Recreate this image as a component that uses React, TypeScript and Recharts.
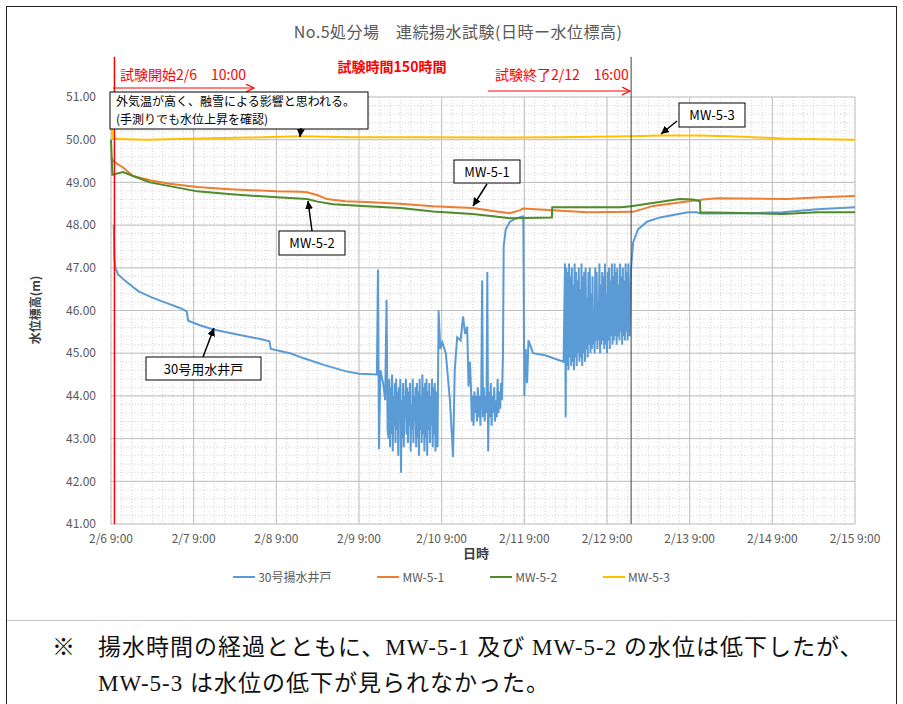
import { LineChart, Line, XAxis, YAxis, CartesianGrid, ReferenceLine } from 'recharts'

const FONT = '"Noto Sans CJK JP", "Noto Sans", sans-serif'
const SERIF = '"Liberation Serif", "DejaVu Serif", "Noto Sans CJK JP", serif'

// x axis: hours since 2/6 9:00
const dayTicks = [0, 24, 48, 72, 96, 120, 144, 168, 192, 216]
const dayLabels = ['2/6 9:00', '2/7 9:00', '2/8 9:00', '2/9 9:00', '2/10 9:00', '2/11 9:00', '2/12 9:00', '2/13 9:00', '2/14 9:00', '2/15 9:00']
const levelTicks = [41, 42, 43, 44, 45, 46, 47, 48, 49, 50, 51]
const testStartHour = 1
const testEndHour = 151

// 30号揚水井戸 - logged points outside the pumping bursts
const wellHours = [0.8, 0.9, 1.0, 1.3, 2, 4, 8, 12, 16, 20, 22, 22.4, 26, 30, 36, 44, 46, 46.4, 52, 56, 62, 68, 72, 77.2, 77.5, 77.8, 78.2, 79, 79.6, 80.0, 80.3,
  94.8, 95.1, 95.6, 96.2, 97.2, 98.4, 99.3, 99.8, 100.5, 101.5, 102.2, 102.8, 103.4, 103.8, 104.2,
  113.8, 114.0, 114.6, 115.8, 117.5, 119.4, 119.7, 120.0, 120.4, 120.8, 121.2, 122.5, 126, 131.4,
  150.6, 151.0, 151.6, 153, 155.6, 159.4, 164, 167.5, 170, 171.2, 186, 195, 205, 216]
const wellLevels = [48.0, 47.6, 47.2, 47.0, 46.85, 46.7, 46.45, 46.3, 46.18, 46.06, 45.98, 45.76, 45.65, 45.55, 45.45, 45.32, 45.28, 45.1, 45.0, 44.88, 44.72, 44.58, 44.52, 44.5, 46.96, 42.75, 44.6, 44.3, 43.9, 46.25, 43.2,
  42.8, 46.0, 45.1, 45.25, 45.0, 43.9, 42.57, 44.6, 45.37, 45.3, 45.86, 45.45, 45.62, 44.22, 44.8,
  45.0, 47.5, 47.9, 48.08, 48.15, 48.2, 48.2, 44.0, 45.1, 44.3, 45.3, 45.0, 44.95, 44.8,
  45.4, 47.0, 47.6, 47.9, 48.08, 48.18, 48.25, 48.3, 48.3, 48.27, 48.28, 48.3, 48.37, 48.42]

// pumping bursts, logged at a fixed interval
const burst1Start = 80.6
const burst1Step = 0.2
const burst1Levels = [43.0, 44.4, 42.8, 44.2, 43.1, 44.5, 42.7, 44.0, 43.3, 44.3,
  42.9, 44.4, 43.2, 44.1, 42.6, 44.2, 43.4, 44.4, 42.2, 43.9,
  43.0, 44.3, 42.8, 44.0, 43.5, 44.4, 43.1, 44.2, 42.9, 44.1,
  43.3, 44.3, 42.7, 43.8, 43.2, 44.4, 42.9, 44.0, 43.4, 44.2,
  42.8, 44.3, 43.0, 44.1, 42.6, 44.4, 43.2, 44.0, 42.9, 44.5,
  43.1, 44.2, 42.7, 44.3, 43.0, 44.4, 42.6, 44.1, 43.2, 44.3,
  42.9, 44.0, 43.3, 44.4, 42.8, 44.2, 43.1, 44.3, 42.7, 44.1,
  43.0]
const burst2Start = 104.5
const burst2Step = 0.25
const burst2Levels = [44.2, 43.4, 44.0, 43.3, 44.1, 43.6, 44.0, 43.4, 44.2, 43.5,
  44.0, 43.3, 44.1, 46.7, 43.5, 44.2, 43.4, 44.0, 43.6, 46.9,
  42.7, 44.1, 43.5, 44.3, 43.3, 44.0, 43.6, 44.2, 43.4, 43.9,
  43.5, 44.4, 43.6, 44.1, 43.7, 44.3, 43.9]
const burst3Start = 131.8
const burst3Step = 0.2
const burst3Levels = [47.1, 43.5, 47.0, 44.7, 46.9, 44.6, 47.1, 44.9, 46.8, 44.7,
  47.0, 44.8, 46.6, 44.6, 47.1, 44.9, 46.9, 44.7, 46.7, 45.0,
  47.0, 44.8, 46.5, 44.9, 47.1, 44.7, 46.8, 45.0, 46.9, 44.8,
  47.0, 45.1, 46.3, 44.9, 46.9, 45.2, 47.0, 45.0, 46.4, 45.1,
  46.8, 45.2, 46.0, 45.0, 47.0, 45.3, 46.9, 45.1, 46.2, 45.3,
  47.1, 45.0, 46.6, 45.2, 46.9, 45.3, 46.8, 45.1, 47.1, 45.2,
  46.4, 45.0, 46.9, 45.3, 47.0, 45.1, 46.7, 45.4, 47.1, 45.2,
  46.8, 45.3, 47.1, 45.4, 46.9, 45.2, 47.0, 45.4, 46.6, 45.3,
  47.1, 45.5, 46.8, 45.2, 47.0, 45.4, 46.7, 45.3, 47.1, 45.5,
  46.9, 45.3, 47.1]

const mw1Hours = [0, 0.6, 3.5, 6.4, 11.3, 17, 25, 34.5, 48.2, 54.9, 56.9, 60, 62.7, 68, 74.3, 83.9, 93.5, 105, 110.9, 115.8, 118.8, 119.6, 128.3, 138.2, 151.6, 157.4, 167.2, 171.9, 176, 196.3, 206, 216]
const mw1Levels = [49.6, 49.5, 49.35, 49.15, 49.05, 48.97, 48.89, 48.84, 48.79, 48.78, 48.77, 48.7, 48.61, 48.56, 48.54, 48.5, 48.44, 48.4, 48.33, 48.28, 48.35, 48.39, 48.35, 48.3, 48.31, 48.45, 48.55, 48.6, 48.63, 48.61, 48.65, 48.68]

const mw2Hours = [0, 0.4, 3.5, 6.4, 11.3, 25, 35, 48.2, 56.9, 60, 64.5, 74.3, 84, 93.5, 105, 110.9, 115.8, 128, 128.1, 140, 148, 151, 165, 169, 171, 171.1, 186, 195, 205, 216]
const mw2Levels = [50.0, 49.18, 49.24, 49.15, 49.0, 48.79, 48.72, 48.65, 48.61, 48.55, 48.49, 48.44, 48.4, 48.32, 48.26, 48.21, 48.16, 48.18, 48.42, 48.42, 48.42, 48.44, 48.61, 48.6, 48.56, 48.3, 48.28, 48.26, 48.3, 48.3]

const mw3Hours = [0, 0.4, 10, 25, 40, 55, 70, 90, 110, 130, 150, 160, 170, 180, 195, 216]
const mw3Levels = [50.98, 50.02, 50.0, 50.03, 50.05, 50.08, 50.06, 50.06, 50.05, 50.06, 50.08, 50.1, 50.1, 50.08, 50.03, 50.0]

const seriesNames = ['30号揚水井戸', 'MW-5-1', 'MW-5-2', 'MW-5-3']
const seriesColors = ['#5B9BD5', '#ED7D31', '#4F8A2B', '#FFC000']

const toPoints = (hours: number[], levels: number[]) => hours.map((h, i) => ({ h, v: levels[i] }))
const burstPoints = (start: number, step: number, levels: number[]) => levels.map((v, i) => ({ h: start + i * step, v }))

const wellData = [
  ...toPoints(wellHours, wellLevels),
  ...burstPoints(burst1Start, burst1Step, burst1Levels),
  ...burstPoints(burst2Start, burst2Step, burst2Levels),
  ...burstPoints(burst3Start, burst3Step, burst3Levels),
].sort((a, b) => a.h - b.h)

const seriesData = [wellData, toPoints(mw1Hours, mw1Levels), toPoints(mw2Hours, mw2Levels), toPoints(mw3Hours, mw3Levels)]

// minor grid every 3h / 0.2m
const minorHours = Array.from({ length: 73 }, (_, i) => i * 3)
const minorLevels = Array.from({ length: 51 }, (_, i) => Math.round((41 + i * 0.2) * 10) / 10)

const TICK = { fill: '#595959', fontSize: 12, fontFamily: FONT }

function Callout({ x, y, w, h, text, from, to }: { x: number, y: number, w: number, h: number, text: string, from: [number, number], to: [number, number] }) {
  return (
    <g>
      <line x1={from[0]} y1={from[1]} x2={to[0]} y2={to[1]} stroke="#000" strokeWidth={1.5} markerEnd="url(#blackHead)" />
      <rect x={x} y={y} width={w} height={h} fill="#fff" stroke="#000" strokeWidth={1} />
      <text x={x + w / 2} y={y + h / 2 + 5} textAnchor="middle" fontSize={13} fill="#000">{text}</text>
    </g>
  )
}

function Overlay() {
  return (
    <svg width={903} height={704} style={{ position: 'absolute', left: 0, top: 0, pointerEvents: 'none', fontFamily: FONT }}>
      <defs>
        <marker id="redHead" markerWidth="10" markerHeight="10" refX="8" refY="4" orient="auto" markerUnits="userSpaceOnUse">
          <path d="M0,0 L8,4 L0,8" fill="none" stroke="#FF0000" strokeWidth={1.2} />
        </marker>
        <marker id="blackHead" markerWidth="10" markerHeight="10" refX="8" refY="4" orient="auto" markerUnits="userSpaceOnUse">
          <path d="M0,0 L8,4 L0,8 Z" fill="#000" />
        </marker>
      </defs>
      <text x={458} y={38} textAnchor="middle" fontSize={16} letterSpacing={0.5} fill="#595959">No.5処分場　連続揚水試験(日時ー水位標高)</text>

      <text x={120} y={80} fontSize={14} fill="#FF0000">試験開始2/6　10:00</text>
      <line x1={113} y1={88} x2={254} y2={88} stroke="#FF0000" strokeWidth={1} markerEnd="url(#redHead)" />
      <text x={392} y={72} textAnchor="middle" fontSize={14} fontWeight="bold" fill="#FF0000">試験時間150時間</text>
      <text x={495} y={80} fontSize={14} fill="#FF0000">試験終了2/12　16:00</text>
      <line x1={488} y1={91} x2={630} y2={91} stroke="#FF0000" strokeWidth={1} markerEnd="url(#redHead)" />

      <rect x={110} y={92} width={258} height={37} fill="#fff" stroke="#000" strokeWidth={1} />
      <text x={116} y={106} fontSize={12} fill="#000">外気温が高く、融雪による影響と思われる。</text>
      <text x={116} y={124} fontSize={12} fill="#000">(手測りでも水位上昇を確認)</text>
      <line x1={301} y1={128} x2={300} y2={137} stroke="#000" strokeWidth={1.5} markerEnd="url(#blackHead)" />

      <Callout x={679} y={103} w={66} h={24} text="MW-5-3" from={[677, 121]} to={[661, 134]} />
      <Callout x={454} y={160} w={66} h={23} text="MW-5-1" from={[487, 184]} to={[473, 206]} />
      <Callout x={279} y={231} w={66} h={24} text="MW-5-2" from={[312, 231]} to={[308, 201]} />
      <Callout x={146} y={357} w={115} h={23} text="30号用水井戸" from={[203, 357]} to={[214, 328]} />

      <text transform="translate(40,310) rotate(-90)" textAnchor="middle" fontSize={12} fontWeight="bold" fill="#404040">水位標高(m)</text>
      <text x={476} y={558} textAnchor="middle" fontSize={13} fontWeight="bold" fill="#404040">日時</text>
    </svg>
  )
}

export default function App() {
  return (
    <div style={{ position: 'absolute', left: 0, top: 0, width: 903, height: 704, background: '#fff', fontFamily: FONT, overflow: 'hidden' }}>
      <div style={{ position: 'absolute', left: 6, top: 6, width: 889, height: 720, border: '1.5px solid #222' }} />
      <div style={{ position: 'absolute', left: 7, top: 620, width: 889, height: 1, background: '#c8c8c8' }} />

      <div style={{ position: 'absolute', left: 0, top: 0 }}>
        <LineChart width={903} height={620} margin={{ top: 97, right: 48, bottom: 66, left: 51 }}>
          <CartesianGrid horizontalValues={minorLevels} verticalValues={minorHours} stroke="#d4d4d4" strokeDasharray="1 2" />
          <CartesianGrid stroke="#bfbfbf" />
          <XAxis type="number" dataKey="h" domain={[0, 216]} ticks={dayTicks} tickFormatter={(h: number) => dayLabels[dayTicks.indexOf(h)]}
            tick={TICK} axisLine={false} tickLine={false} tickSize={0} tickMargin={10} height={30} interval={0} />
          <YAxis type="number" domain={[41, 51]} ticks={levelTicks} tickFormatter={(v: number) => v.toFixed(2)}
            tick={TICK} axisLine={false} tickLine={false} tickSize={0} tickMargin={15} width={60} interval={0} />
          {seriesData.map((d, i) => (
            <Line key={seriesNames[i]} data={d} dataKey="v" name={seriesNames[i]} type="linear" stroke={seriesColors[i]}
              strokeWidth={2} dot={false} isAnimationActive={false} />
          ))}
          <ReferenceLine segment={[{ x: testStartHour, y: 41 }, { x: testStartHour, y: 51.94 }]} stroke="#FF0000" strokeWidth={1.5} ifOverflow="visible" />
          <ReferenceLine segment={[{ x: testEndHour, y: 41 }, { x: testEndHour, y: 51.94 }]} stroke="#404040" strokeWidth={1} ifOverflow="visible" />
        </LineChart>
      </div>

      <Overlay />

      <div style={{ position: 'absolute', left: 0, top: 568, width: 903, display: 'flex', justifyContent: 'center', gap: 46, fontSize: 12, color: '#595959' }}>
        {seriesNames.map((n, i) => (
          <div key={n} style={{ display: 'flex', alignItems: 'center' }}>
            <span style={{ display: 'inline-block', width: 22, height: 2, background: seriesColors[i], marginRight: 3 }} />
            <span>{n}</span>
          </div>
        ))}
      </div>

      <div style={{ position: 'absolute', left: 52, top: 628, fontFamily: SERIF, fontSize: 23, color: '#111' }}>※</div>
      <div style={{ position: 'absolute', left: 98, top: 628, fontFamily: SERIF, fontSize: 23, letterSpacing: 1, color: '#111', whiteSpace: 'nowrap' }}>揚水時間の経過とともに、MW-5-1 及び MW-5-2 の水位は低下したが、</div>
      <div style={{ position: 'absolute', left: 98, top: 664, fontFamily: SERIF, fontSize: 23, letterSpacing: 1, color: '#111', whiteSpace: 'nowrap' }}>MW-5-3 は水位の低下が見られなかった。</div>
    </div>
  )
}
